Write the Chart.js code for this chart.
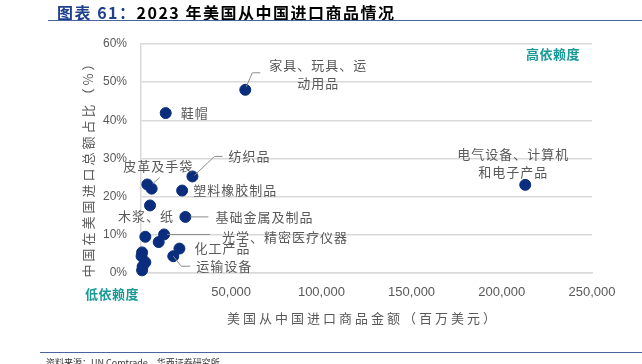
<!DOCTYPE html>
<html><head><meta charset="utf-8">
<script src="https://cdn.jsdelivr.net/npm/chart.js@4"></script>
<style>
html,body{margin:0;padding:0;background:#fff;width:642px;height:364px;overflow:hidden;}
#wrap{position:absolute;left:0;top:0;width:642px;height:364px;}
#title{position:absolute;left:57px;top:0px;font:bold 16px "Noto Sans CJK SC","Noto Sans",sans-serif;color:#000;white-space:nowrap;letter-spacing:1.5px;}
#title span{color:#1f3f8f;}
#tline{position:absolute;left:48px;top:20px;width:594px;height:0;border-top:1.5px solid #4a64a0;}
#bline{position:absolute;left:40px;top:352px;width:602px;height:0;border-top:1.5px solid #4a64a0;}
#foot{position:absolute;left:46px;top:356px;font:9px "Noto Sans CJK SC",sans-serif;color:#333;white-space:nowrap;}
</style></head>
<body>
<div id="wrap"><canvas id="c" width="642" height="364"></canvas></div>
<div id="title"><span>图表 61：</span>2023 年美国从中国进口商品情况</div>
<div id="tline"></div>
<div id="bline"></div>
<div id="foot">资料来源：UN Comtrade，华西证券研究所</div>
<script>
// ---- data ----
const names = ["家具、玩具、运动用品","鞋帽","纺织品","皮革及手袋","","塑料橡胶制品","木浆、纸","基础金属及制品","","光学、精密医疗仪器","","化工产品","运输设备","","","","","","电气设备、计算机和电子产品"];
const importValue = [57800,13700,28500,3500,5900,22800,5000,24600,2400,12800,9800,21300,17900,600,300,2400,900,600,213000];
const chinaShare = [48.0,41.9,25.3,23.2,22.1,21.6,17.7,14.7,9.5,10.1,8.1,6.4,4.4,5.4,4.4,2.8,1.7,0.7,23.1];
const xTicks = [0,50000,100000,150000,200000,250000];
const yTicks = [0,10,20,30,40,50,60];

// ---- label styling (pixel offsets from point) ----
const labelStyle = {
  0:{lines:["家具、玩具、运","动用品"],dx:73,dy:-25,align:"center",leader:[[1,-3],[7,-17],[15,-17]]},
  1:{lines:["鞋帽"],dx:15,dy:0,align:"left"},
  2:{lines:["纺织品"],dx:36,dy:-20,align:"left",leader:[[2,-1],[22,-20],[30,-20]]},
  3:{lines:["皮革及手袋"],dx:-24,dy:-18,align:"left"},
  5:{lines:["塑料橡胶制品"],dx:11,dy:0,align:"left"},
  6:{lines:["木浆、纸"],dx:-32,dy:11,align:"left"},
  7:{lines:["基础金属及制品"],dx:30,dy:0,align:"left",leader:[[5,0],[23,0]]},
  9:{lines:["光学、精密医疗仪器"],dx:58,dy:3,align:"left",leader:[[3,0],[46,0]]},
  11:{lines:["化工产品"],dx:15,dy:-1,align:"left"},
  12:{lines:["运输设备"],dx:23,dy:10,align:"left",leader:[[0,0],[8,10],[17,10]]},
  18:{lines:["电气设备、计算机","和电子产品"],dx:-12,dy:-31,align:"center"}
};

const labelFont = '13px "Noto Sans CJK SC", sans-serif';
const grayText = '#595959';

const labelsPlugin = {
  id:'labelsPlugin',
  afterDatasetsDraw(chart){
    const ctx = chart.ctx, xs = chart.scales.x, ys = chart.scales.y;
    ctx.save();
    ctx.font = labelFont;
    ctx.fillStyle = grayText;
    ctx.textBaseline = 'middle';
    try{ctx.letterSpacing='1px';}catch(e){}
    Object.keys(labelStyle).forEach(k=>{
      const i = +k, s = labelStyle[k];
      const px = xs.getPixelForValue(importValue[i]), py = ys.getPixelForValue(chinaShare[i]);
      ctx.textAlign = s.align;
      s.lines.forEach((ln,j)=>{
        ctx.fillText(ln, px + s.dx, py + s.dy + j*18);
      });
      if(s.leader){
        ctx.beginPath();
        ctx.strokeStyle='#8c8c8c';ctx.lineWidth=1;
        s.leader.forEach((p,j)=>{ if(j===0) ctx.moveTo(px+p[0],py+p[1]); else ctx.lineTo(px+p[0],py+p[1]); });
        ctx.stroke();
      }
    });
    // leather leader
    const lp = [xs.getPixelForValue(importValue[4]), ys.getPixelForValue(chinaShare[4])];
    ctx.beginPath();ctx.strokeStyle='#8c8c8c';
    ctx.moveTo(lp[0]+1, lp[1]-5); ctx.lineTo(lp[0]+8, lp[1]-11); ctx.stroke();

    // axis titles
    ctx.textAlign='center';
    ctx.fillStyle=grayText;
    ctx.font='13px "Noto Sans CJK SC", sans-serif';
    try{ctx.letterSpacing='3px';}catch(e){}
    ctx.fillText('美国从中国进口商品金额（百万美元）', 363, 318);
    ctx.save();
    ctx.translate(88, 166);
    ctx.rotate(-Math.PI/2);
    ctx.fillText('中国在美国进口总额占比（%）',0,0);
    ctx.restore();
    // dependency notes
    ctx.fillStyle='#1a9a97';
    ctx.font='bold 13px "Noto Sans CJK SC", sans-serif';
    try{ctx.letterSpacing='0.5px';}catch(e){}
    ctx.fillText('高依赖度', 553, 54);
    ctx.fillText('低依赖度', 112, 294);
    ctx.restore();
  }
};

new Chart(document.getElementById('c'),{
  type:'scatter',
  data:{datasets:[{
    data: importValue.map((v,i)=>({x:v,y:chinaShare[i]})),
    backgroundColor:'#0b2d7d',
    borderColor:'#0b2d7d',
    pointRadius:5.5,
    pointHoverRadius:5.5,
    clip:false
  }]},
  options:{
    responsive:false,animation:false,
    layout:{padding:{left:0,right:50,top:44,bottom:0}},
    plugins:{legend:{display:false},tooltip:{enabled:false}},
    scales:{
      x:{type:'linear',min:0,max:250000,
        afterBuildTicks(s){s.ticks = xTicks.map(v=>({value:v}));},
        afterFit(s){s.height = 91;},
        grid:{display:false,drawTicks:false},
        border:{display:true,color:'#d9d9d9',width:1.5},
        ticks:{padding:12,color:grayText,font:{family:'"Liberation Sans", "Open Sans", sans-serif',size:13},
          callback:(v)=> v===0 ? '' : v.toLocaleString('en-US')}
      },
      y:{type:'linear',min:0,max:60,
        afterBuildTicks(s){s.ticks = yTicks.map(v=>({value:v}));},
        afterFit(s){s.width = 141;},
        grid:{color:'#d9d9d9',lineWidth:1.5,drawTicks:false},
        border:{display:true,color:'#d9d9d9',width:1.5},
        ticks:{padding:14,color:grayText,font:{family:'"Liberation Sans", "Open Sans", sans-serif',size:12},
          callback:(v)=> v+'%'}
      }
    }
  },
  plugins:[labelsPlugin]
});
</script>
</body></html>
